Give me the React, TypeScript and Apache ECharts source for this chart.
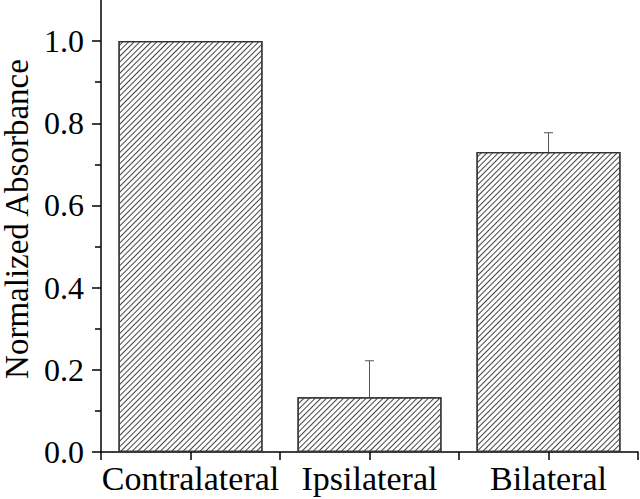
import React, { useEffect, useRef } from "react";
import * as echarts from "echarts";

const categories = ["Contralateral", "Ipsilateral", "Bilateral"];
const values = [1.0, 0.133, 0.73];
const errors = [0, 0.089, 0.047];
const yMajorTicks = [0, 0.2, 0.4, 0.6, 0.8, 1.0];
const yMinorTicks = [0.1, 0.3, 0.5, 0.7, 0.9];

const FONT = "Liberation Serif";

export default function App() {
  const ref = useRef<HTMLDivElement>(null);
  useEffect(() => {
    if (!ref.current) return;
    document.body.style.margin = "0";
    const chart = echarts.init(ref.current, null, { renderer: "svg" });
    // 7 slots: boundaries and centers; categories sit on odd slots
    const slots: string[] = [""];
    const barData: any[] = ["-"];
    categories.forEach((c, i) => {
      slots.push(c, "");
      barData.push(values[i], "-");
    });
    const errData = categories.map((c, i) => [2 * i + 1, values[i], errors[i]]);

    chart.setOption({
      animation: false,
      grid: { left: 101, right: 2, top: 0, bottom: 47, containLabel: false, outerBoundsMode: "none" },
      xAxis: {
        type: "category",
        data: slots,
        boundaryGap: false,
        axisLine: { show: true, lineStyle: { color: "#000", width: 1.5 } },
        axisTick: { show: true, interval: 0, length: 8, inside: false, lineStyle: { color: "#000", width: 1.5 } },
        axisLabel: { interval: 0, margin: 9, fontFamily: FONT, fontSize: 34, color: "#000" },
        splitLine: { show: false },
      },
      yAxis: [
        {
          type: "value",
          min: 0,
          max: 1.1,
          interval: 0.1,
          name: "Normalized Absorbance",
          nameLocation: "middle",
          nameGap: 62,
          nameTextStyle: { fontFamily: FONT, fontSize: 33, lineHeight: 33, color: "#000", padding: [0, 0, 0, 14] },
          axisLine: { show: true, lineStyle: { color: "#000", width: 1.5 } },
          axisTick: { show: true, length: 9, customValues: yMajorTicks, lineStyle: { color: "#000", width: 1.5 } },
          axisLabel: {
            margin: 17,
            customValues: yMajorTicks,
            formatter: (v: number) => v.toFixed(1),
            fontFamily: FONT,
            fontSize: 32,
            color: "#000",
          },
          splitLine: { show: false },
        },
        {
          type: "value",
          min: 0,
          max: 1.1,
          position: "left",
          axisLine: { show: false },
          axisTick: { show: true, length: 6, customValues: yMinorTicks, lineStyle: { color: "#000", width: 1.5 } },
          axisLabel: { show: false },
          splitLine: { show: false },
        },
      ],
      series: [
        {
          type: "bar",
          data: barData,
          barWidth: 144,
          yAxisIndex: 0,
          itemStyle: {
            color: "#fff",
            borderColor: "#333",
            borderWidth: 1.2,
            decal: {
              symbol: "rect",
              symbolSize: 1,
              dashArrayX: [1, 0],
              dashArrayY: [1, 3],
              rotation: -Math.PI / 4,
              color: "#444",
            },
          },
        },
        {
          type: "custom",
          yAxisIndex: 0,
          data: errData,
          z: 1,
          renderItem: (params: any, api: any) => {
            const x = api.value(0);
            const v = api.value(1);
            const e = api.value(2);
            if (!e) return null;
            const p0 = api.coord([x, v]);
            const p1 = api.coord([x, v + e]);
            const half = 4.5;
            return {
              type: "group",
              children: [
                { type: "line", shape: { x1: p0[0], y1: p0[1], x2: p1[0], y2: p1[1] }, style: { stroke: "#555", lineWidth: 1 } },
                { type: "line", shape: { x1: p1[0] - half, y1: p1[1], x2: p1[0] + half, y2: p1[1] }, style: { stroke: "#555", lineWidth: 1 } },
              ],
            };
          },
        },
      ],
    });
    return () => chart.dispose();
  }, []);
  return <div ref={ref} style={{ width: 640, height: 499 }} />;
}
